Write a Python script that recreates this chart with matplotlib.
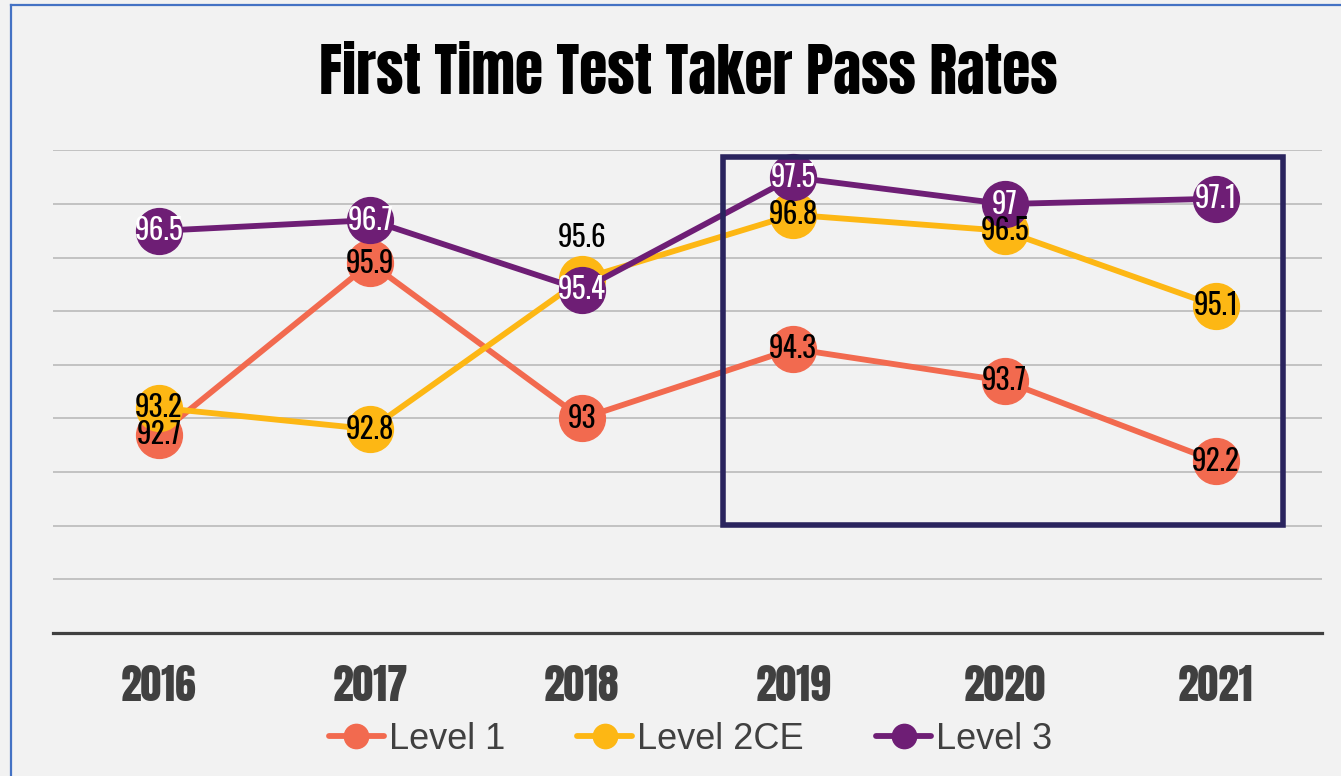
import matplotlib.pyplot as plt
from matplotlib.patches import Rectangle
from matplotlib.lines import Line2D

# data
years = ['2016', '2017', '2018', '2019', '2020', '2021']
level1 = [92.7, 95.9, 93.0, 94.3, 93.7, 92.2]
level2ce = [93.2, 92.8, 95.6, 96.8, 96.5, 95.1]
level3 = [96.5, 96.7, 95.4, 97.5, 97.0, 97.1]
series_names = ['Level 1', 'Level 2CE', 'Level 3']

colors = ['#F26A4F', '#FDB714', '#6E1E75']
text_colors = ['black', 'black', 'white']
head_font = ['Anton', 'DejaVu Sans']
label_font = ['Oswald', 'DejaVu Sans']

fig = plt.figure(figsize=(13.41, 7.76), dpi=100, facecolor='#F2F2F2')
ax = fig.add_axes([0.0397, 0.1845, 0.9459, 0.6216])
ax.set_facecolor('none')

x = list(range(len(years)))
for i, (vals, name) in enumerate(zip([level1, level2ce, level3], series_names)):
    ax.plot(x, vals, color=colors[i], lw=4.2, marker='o', ms=33,
            label=name, zorder=3 + i, solid_capstyle='round')

# value labels
for i, vals in enumerate([level1, level2ce, level3]):
    for xi, v in zip(x, vals):
        txt = f'{v:g}'
        if i == 1 and xi == 2:
            # hidden behind the purple marker, so put it above
            ax.annotate(txt, (xi, v), xytext=(0, 30), textcoords='offset points',
                        ha='center', va='center', fontsize=21, color='black',
                        family=label_font, zorder=10)
        else:
            ax.annotate(txt, (xi, v), ha='center', va='center', fontsize=21,
                        color=text_colors[i], family=label_font, zorder=10)

ax.set_xlim(-0.5, 5.5)
ax.set_ylim(89, 98)
ax.set_yticks(range(90, 99))
ax.yaxis.grid(True, color='#BFBFBF', lw=1.3)
ax.set_axisbelow(True)
ax.tick_params(axis='y', left=False, labelleft=False)
ax.set_xticks(x)
ax.set_xticklabels(years, fontsize=30, color='#404040', family=head_font)
ax.tick_params(axis='x', length=0, pad=23)
for s in ['top', 'right', 'left']:
    ax.spines[s].set_visible(False)
ax.spines['bottom'].set_color('#404040')
ax.spines['bottom'].set_linewidth(2.3)

# highlight box
ax.add_patch(Rectangle((2.668, 91.02), 5.317 - 2.668, 97.87 - 91.02, fill=False,
                       edgecolor='#2A245E', lw=4, zorder=9, clip_on=False))

fig.text(0.513, 0.8789, 'First Time Test Taker Pass Rates', ha='center', va='baseline',
         fontsize=41.5, color='black', family=head_font)

leg = fig.legend(loc='center', bbox_to_anchor=(0.515, 0.047), ncol=3, frameon=False,
                 prop={'family': 'Liberation Sans', 'size': 26}, markerscale=0.53,
                 handlelength=1.52, handletextpad=0.14, columnspacing=2.0)
for t in leg.get_texts():
    t.set_color('#404040')

# thin blue frame
fig.add_artist(Line2D([11 / 1341, 11 / 1341], [0, 1 - 4.5 / 776], transform=fig.transFigure,
                      color='#4472C4', lw=1.6))
fig.add_artist(Line2D([11 / 1341, 1], [1 - 4.5 / 776, 1 - 4.5 / 776], transform=fig.transFigure,
                      color='#4472C4', lw=1.6))

fig.savefig('out.png', dpi=100, facecolor=fig.get_facecolor())
